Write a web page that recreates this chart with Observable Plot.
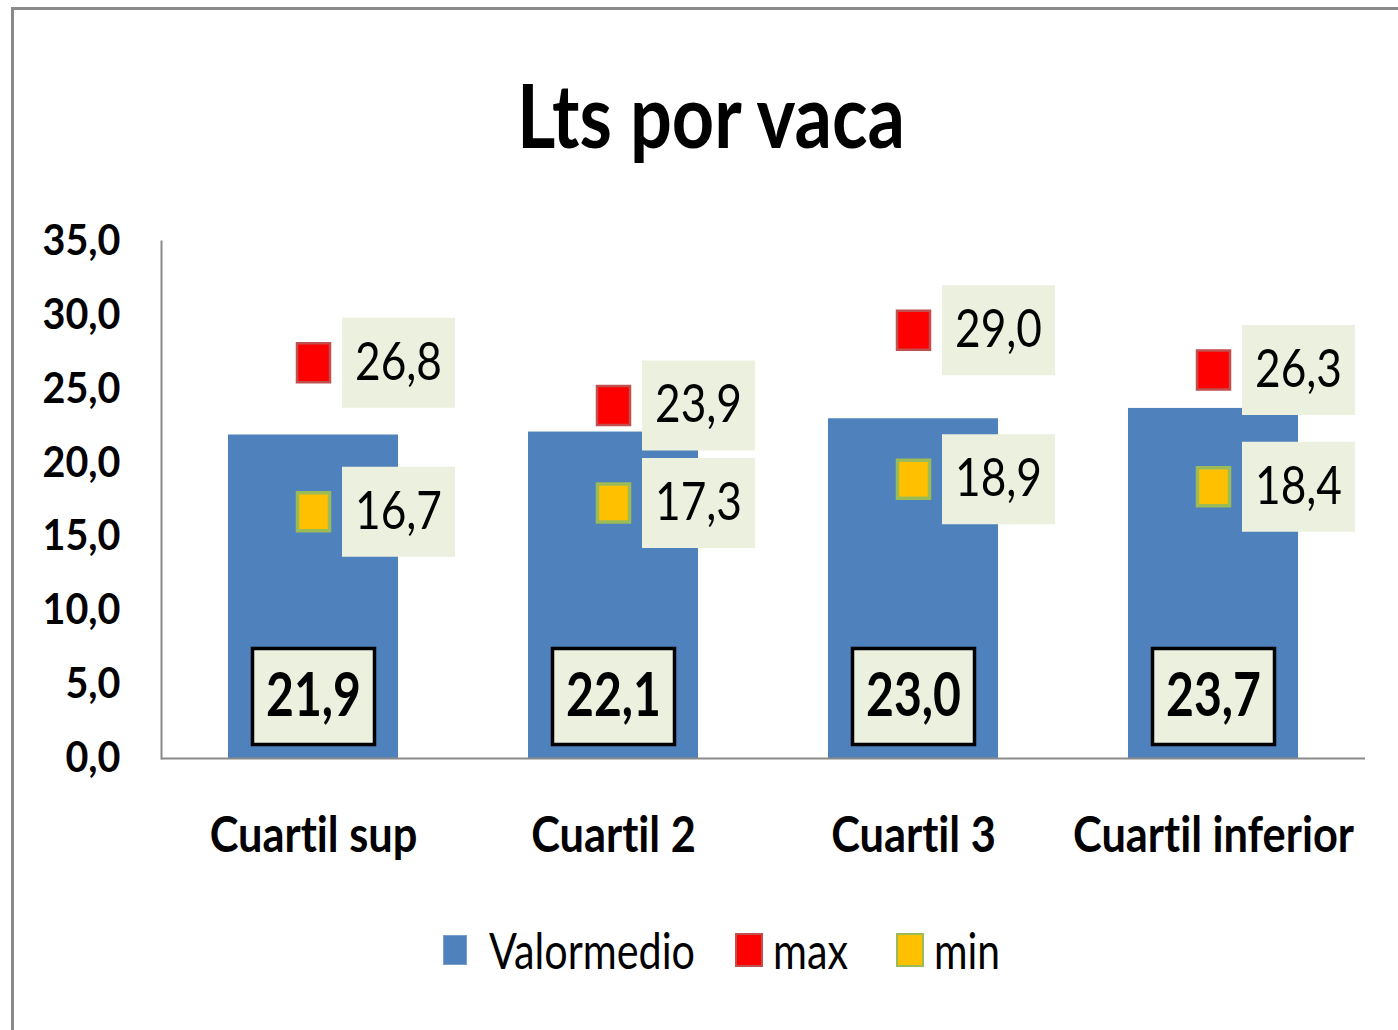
<!DOCTYPE html>
<html>
<head>
<meta charset="utf-8">
<script src="https://cdn.jsdelivr.net/npm/d3@7"></script>
<script src="https://cdn.jsdelivr.net/npm/@observablehq/plot@0.6"></script>
<style>
  html, body { margin: 0; padding: 0; background: #fff; }
  body { font-family: Lato, "Open Sans", sans-serif; font-variant-ligatures: none; font-feature-settings: "liga" 0, "clig" 0, "dlig" 0; }
  svg text, svg { font-variant-ligatures: none; font-feature-settings: "liga" 0, "clig" 0, "dlig" 0; }
  #wrap { position: relative; width: 1398px; height: 1030px; overflow: hidden; }
  #border { position: absolute; left: 11px; top: 7px; width: 1400px; height: 1040px;
            border-left: 3px solid #8a8a8a; border-top: 3px solid #8a8a8a; pointer-events: none; }
  #title { height: 200px; box-sizing: border-box; padding-top: 70px; position: relative;
           font-size: 88px; line-height: 1; font-weight: bold; color: #000; }
  #title span { position: absolute; left: 711px; white-space: nowrap; }
  #chart svg { display: block; overflow: visible; }
  #legend { position: relative; height: 160px; font-size: 50px; line-height: 1; color: #000; }
  #legend .sw { position: absolute; box-sizing: border-box; }
  #legend .lt { position: absolute; white-space: nowrap; transform-origin: left center; }
</style>
</head>
<body>
<div id="wrap">
  <div id="border"></div>
  <div id="title"><span>Lts por vaca</span></div>
  <div id="chart"></div>
  <div id="legend"></div>
</div>
<script>
const categories = ["Cuartil sup", "Cuartil 2", "Cuartil 3", "Cuartil inferior"];
const valorMedio = [21.9, 22.1, 23.0, 23.7];
const maxVals = [26.8, 23.9, 29.0, 26.3];
const minVals = [16.7, 17.3, 18.9, 18.4];
const yTicks = [0, 5, 10, 15, 20, 25, 30, 35];
const seriesNames = ["Valormedio", "max", "min"];

const data = categories.map((c, i) => ({cat: c, medio: valorMedio[i], max: maxVals[i], min: minVals[i]}));
const fmt = v => v.toFixed(1).replace(".", ",");
const boxSym = (w, h) => ({draw(ctx) { ctx.rect(-w / 2, -h / 2, w, h); }});

const blue = "#4f81bd", red = "#ff0000", redEdge = "#c0504d", yellow = "#ffc000", yellowEdge = "#9bbb59", labelBg = "#ebf1de";

const chart = Plot.plot({
  width: 1398,
  height: 668,
  marginTop: 41,
  marginBottom: 110,
  marginLeft: 161,
  marginRight: 33,
  style: {fontFamily: 'Lato, "Open Sans", sans-serif', overflow: "visible", background: "transparent"},
  x: {domain: categories, paddingInner: 0.432, paddingOuter: 0.22, label: null},
  y: {domain: [0, 35], ticks: yTicks, label: null},
  marks: [
    Plot.barY(data, {x: "cat", y: "medio", fill: blue}),
    Plot.frame({anchor: "left", stroke: "#8a8a8a", strokeWidth: 2}),
    Plot.ruleY([0], {stroke: "#8a8a8a", strokeWidth: 2}),
    Plot.axisY({ticks: yTicks, tickSize: 0, tickPadding: 41, tickFormat: fmt, fontSize: 42, fontWeight: "bold", fill: "#000", label: null, className: "gy"}),
    Plot.axisX({tickSize: 0, tickPadding: 58, fontSize: 50, fontWeight: "bold", fill: "#000", label: null, className: "gx"}),
    Plot.dot(data, {x: "cat", y: "max", symbol: boxSym(113, 90), dx: 85, fill: labelBg, stroke: "none"}),
    Plot.dot(data, {x: "cat", y: "min", symbol: boxSym(113, 90), dx: 85, fill: labelBg, stroke: "none"}),
    Plot.dot(data, {x: "cat", y: "max", symbol: boxSym(33, 39), fill: red, stroke: redEdge, strokeWidth: 2.5}),
    Plot.dot(data, {x: "cat", y: "min", symbol: boxSym(32, 38), fill: yellow, stroke: yellowEdge, strokeWidth: 3.5}),
    Plot.text(data, {x: "cat", y: "max", text: d => fmt(d.max), dx: 85, fontSize: 53, fill: "#000", className: "gl"}),
    Plot.text(data, {x: "cat", y: "min", text: d => fmt(d.min), dx: 85, fontSize: 53, fill: "#000", className: "gl"}),
    Plot.dot(data, {x: "cat", y: d => 0, symbol: boxSym(122, 96), dy: -62, fill: labelBg, stroke: "#000", strokeWidth: 3.5}),
    Plot.text(data, {x: "cat", y: d => 0, text: d => fmt(d.medio), dy: -62, fontSize: 62, fontWeight: "bold", fill: "#000", className: "gb"})
  ]
});
document.getElementById("chart").appendChild(chart);

// Condense the text to the narrow face of the original
function squeeze(cls, refText, refWidth) {
  const els = [...chart.querySelectorAll("." + cls + " text")];
  const ref = els.find(e => e.textContent === refText);
  const k = refWidth / ref.getComputedTextLength();
  els.forEach(e => {
    e.style.fontVariantLigatures = "none";
    e.style.fontFeatureSettings = '"liga" 0, "clig" 0';
    e.setAttribute("textLength", (e.getComputedTextLength() * k).toFixed(1));
    e.setAttribute("lengthAdjust", "spacingAndGlyphs");
  });
}
squeeze("gy", "35,0", 78);
squeeze("gx", "Cuartil inferior", 281);
squeeze("gl", "26,8", 87);
squeeze("gb", "21,9", 95);

// title
const ts = document.querySelector("#title span");
const tw = ts.getBoundingClientRect().width;
ts.style.transformOrigin = "left center";
ts.style.transform = `translateX(${-388 / 2}px) scaleX(${388 / tw})`;

// legend
const legend = document.getElementById("legend");
const items = [
  {name: seriesNames[0], fill: blue, edge: "#7a9fd0", sx: 443, w: 24, h: 30, tx: 489, tw: 206, bw: 1},
  {name: seriesNames[1], fill: red, edge: redEdge, sx: 735, w: 28, h: 34, tx: 773, tw: 75, bw: 2},
  {name: seriesNames[2], fill: yellow, edge: yellowEdge, sx: 896, w: 28, h: 34, tx: 934, tw: 66, bw: 2.5}
];
items.forEach(it => {
  const sw = document.createElement("div");
  sw.className = "sw";
  Object.assign(sw.style, {left: it.sx + "px", top: (82 - it.h / 2) + "px", width: it.w + "px", height: it.h + "px",
    background: it.fill, border: it.bw + "px solid " + it.edge});
  legend.appendChild(sw);
  const t = document.createElement("div");
  t.className = "lt";
  t.textContent = it.name;
  t.style.left = it.tx + "px";
  t.style.top = "57px";
  legend.appendChild(t);
  const w = t.getBoundingClientRect().width;
  t.style.transform = `scaleX(${it.tw / w})`;
});
</script>
</body>
</html>
